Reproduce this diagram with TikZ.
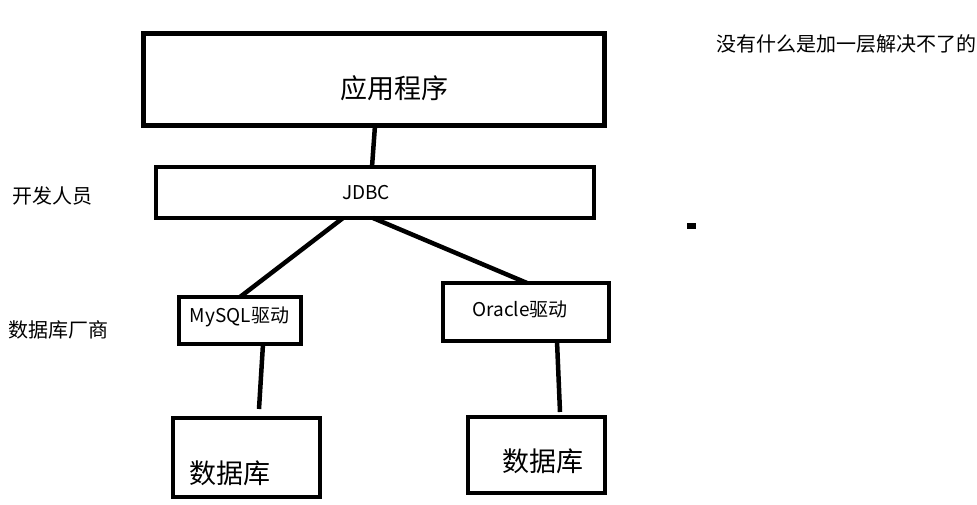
\documentclass[tikz,border=0pt]{standalone}
\usepackage{fontspec}
\setmainfont{Noto Sans CJK SC}
\begin{document}
\begin{tikzpicture}[x=1pt,y=-1pt,
  box/.style={draw=black, line width=4.5pt, rectangle, inner sep=0pt, outer sep=0pt, fill=white},
  link/.style={draw=black, line width=4.5pt},
  big/.style={inner sep=0pt, font=\fontsize{27}{27}\selectfont},
  mid/.style={inner sep=0pt, font=\fontsize{19}{19}\selectfont},
  side/.style={inner sep=0pt, font=\fontsize{20}{20}\selectfont}]
\useasboundingbox[fill=white] (0,0) rectangle (977,505);

% boxes
\node[box, line width=5pt, minimum width=461pt, minimum height=92pt] (app) at (374,79.5) {};
\node[box, minimum width=438pt, minimum height=51pt] (jdbc) at (375,192.5) {};
\node[box, minimum width=122pt, minimum height=47pt] (mysql) at (240,320.5) {};
\node[box, minimum width=166pt, minimum height=58pt] (oracle) at (526,312) {};
\node[box, minimum width=147pt, minimum height=79pt] (dbl) at (246.5,457.5) {};
\node[box, minimum width=137pt, minimum height=76pt] (dbr) at (536.5,455) {};

% texts
\node[big] (tapp) at (394,88) {应用程序};
\node[mid] (tjdbc) at (366,193) {JDBC};
\node[mid] (tmysql) at (239.5,317) {MySQL驱动};
\node[mid] (toracle) at (520,309) {Oracle驱动};
\node[big] (tdbl) at (229.5,473) {数据库};
\node[big] (tdbr) at (542.5,461) {数据库};
\node[side] (dev) at (52.5,196) {开发人员};
\node[side] (vendor) at (58.5,330) {数据库厂商};
\node[side, anchor=west] (motto) at (716,44) {没有什么是加一层解决不了的};

% connectors
\coordinate (endl) at (259,409);
\coordinate (endr) at (560,412);
\draw[link] ([xshift=1pt]app.south) -- ([xshift=-3pt]jdbc.north);
\draw[link] ([xshift=-32pt]jdbc.south) -- (mysql.north);
\draw[link] ([xshift=-2pt]jdbc.south) -- ([xshift=1pt]oracle.north);
\draw[link] ([xshift=23pt]mysql.south) -- (endl);
\draw[link] ([xshift=31pt]oracle.south) -- (endr);

% stray mark
\fill[black] (687,223) rectangle (696,229);
\end{tikzpicture}
\end{document}
